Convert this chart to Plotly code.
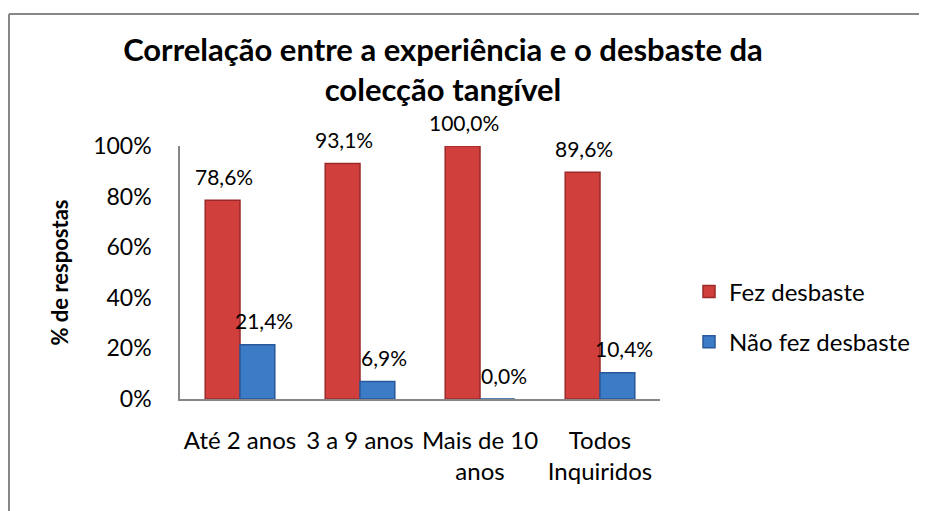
import plotly.graph_objects as go

categories = ["Até 2 anos", "3 a 9 anos", "Mais de 10<br>anos", "Todos<br>Inquiridos"]
fez_desbaste = [0.786, 0.931, 1.000, 0.896]
nao_fez_desbaste = [0.214, 0.069, 0.000, 0.104]
series_names = ["Fez desbaste", "Não fez desbaste"]
y_ticks = [0, 0.2, 0.4, 0.6, 0.8, 1.0]
y_ticklabels = ["0%", "20%", "40%", "60%", "80%", "100%"]

W, H = 927, 511
ML, MT = 172, 138
PLOT_R, PLOT_B = 652, 391
MR, MB = W - PLOT_R, H - PLOT_B
FONT = "Lato, Carlito, Calibri, sans-serif"

red_fill, red_edge = "#D13F3D", "#9A2927"
blue_fill, blue_edge = "#3C7CC6", "#28579A"

fig = go.Figure()
fig.add_trace(go.Bar(x=categories, y=fez_desbaste, name=series_names[0],
                     marker=dict(color=red_fill, line=dict(color=red_edge, width=1.5)),
                     legendgroup="a"))
fig.add_trace(go.Bar(x=categories, y=nao_fez_desbaste, name=series_names[1],
                     marker=dict(color=blue_fill, line=dict(color=blue_edge, width=1.5)),
                     legendgroup="b"))

def fmt(v):
    return f"{v*100:.1f}".replace(".", ",") + "%"

annotations = []
for series, shift in ((fez_desbaste, -16), (nao_fez_desbaste, 24)):
    for c, v in zip(categories, series):
        annotations.append(dict(x=c, y=v, text=fmt(v), showarrow=False,
                                xshift=shift, yshift=24, yanchor="middle",
                                font=dict(family=FONT, size=21, color="#000000")))

pw, ph = W - ML - MR, H - MT - MB
def px_x(px):
    return (px - ML) / pw
def px_y(py):
    return (H - MB - py) / ph

border = "#888888"
shapes = [
    dict(type="line", xref="paper", yref="paper", x0=px_x(1), x1=px_x(W + 20), y0=px_y(6), y1=px_y(6),
         line=dict(color=border, width=2)),
    dict(type="line", xref="paper", yref="paper", x0=px_x(1), x1=px_x(1), y0=px_y(6), y1=px_y(H + 20),
         line=dict(color=border, width=2)),
]

fig.update_layout(
    width=W, height=H,
    margin=dict(l=ML, r=MR, t=MT, b=MB, autoexpand=False),
    paper_bgcolor="white", plot_bgcolor="white",
    barmode="group", bargap=0.42, bargroupgap=0,
    title=dict(text="Correlação entre a experiência e o desbaste da<br>colecção tangível",
               x=435 / W, xanchor="center", y=1 - 53 / H, yanchor="top",
               font=dict(family=FONT, size=31, color="#000000", weight="bold")),
    font=dict(family=FONT, size=24, color="#000000"),
    legend=dict(x=px_x(681), xanchor="left", y=px_y(309), yanchor="middle",
                font=dict(family=FONT, size=24), tracegroupgap=16, bgcolor="rgba(0,0,0,0)"),
    annotations=annotations,
    shapes=shapes,
    xaxis=dict(showline=True, linecolor="#868686", linewidth=1.5, ticks="",
               tickfont=dict(family=FONT, size=24), ticklabelstandoff=19, showgrid=False),
    yaxis=dict(range=[0, 1.0], tickvals=y_ticks, ticktext=y_ticklabels, showline=True,
               linecolor="#868686", linewidth=1.5, ticks="", showgrid=False, zeroline=False,
               tickfont=dict(family=FONT, size=23), ticklabelstandoff=22,
               title=dict(text="% de respostas", standoff=18,
                          font=dict(family=FONT, size=22, weight="bold"))),
)

fig.write_html("out.html")
